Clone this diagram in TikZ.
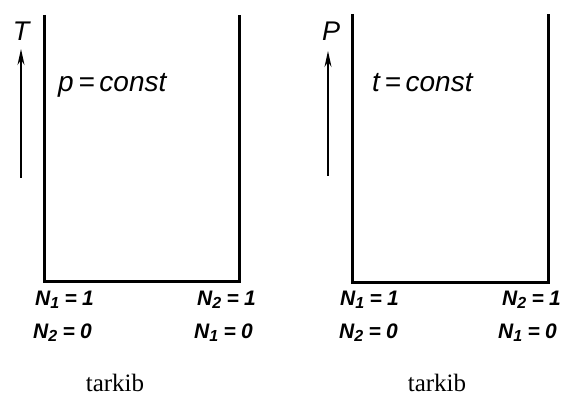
\documentclass[tikz,border=0pt]{standalone}
\usepackage{fontspec}
\setmainfont{Liberation Serif}
\setsansfont{Liberation Sans}
\usetikzlibrary{arrows.meta, positioning}

\newcommand{\eqsp}{\hspace{0.25em}=\hspace{0.25em}}
\newcommand{\nsub}[1]{\raisebox{-0.3ex}{\fontsize{16}{16}\selectfont #1}}

\begin{document}
\begin{tikzpicture}[
  x=1pt, y=-1pt,
  wall/.style={line width=3pt, line join=miter},
  axis/.style={-{Stealth[length=16pt, width=7pt]}, line width=1.4pt},
  lab/.style={font=\fontsize{21}{21}\selectfont\sffamily\itshape\bfseries, inner sep=0pt},
  cond/.style={font=\fontsize{28}{28}\selectfont\sffamily\itshape, inner sep=0pt},
  axlab/.style={font=\fontsize{27}{27}\selectfont\sffamily\itshape, inner sep=0pt},
  comp/.style={font=\fontsize{25}{25}\selectfont, inner sep=0pt}
]
\useasboundingbox (0,0) rectangle (570,398);

% Left diagram: p = const
\coordinate (ltl) at (44,15);
\coordinate (lbl) at (44,281);
\coordinate (lbr) at (239,281);
\coordinate (ltr) at (239,15);
\draw[wall] (ltl) -- (lbl) -- (lbr) -- (ltr);

\coordinate (lax0) at (21,178);
\coordinate (lax1) at (21,49);
\draw[axis] (lax0) -- (lax1);
\node[axlab] (tlab) at (21,31) {T};
\node[cond, anchor=base west] (pconst) at (58,92) {p\,=\,const};

\node[lab, anchor=west] (ln11) at (35,300) {N\nsub{1}\eqsp 1};
\node[lab, anchor=west] (ln20) at (33,333) {N\nsub{2}\eqsp 0};
\node[lab, anchor=west] (ln21) at (197,300) {N\nsub{2}\eqsp 1};
\node[lab, anchor=west] (ln10) at (194,333) {N\nsub{1}\eqsp 0};
\node[comp, anchor=base] (lcomp) at (115,391) {tarkib};

% Right diagram: t = const
\coordinate (rtl) at (352,14);
\coordinate (rbl) at (352,282);
\coordinate (rbr) at (548,282);
\coordinate (rtr) at (548,14);
\draw[wall] (rtl) -- (rbl) -- (rbr) -- (rtr);

\coordinate (rax0) at (328,176);
\coordinate (rax1) at (328,51);
\draw[axis] (rax0) -- (rax1);
\node[axlab] (plab) at (331,31) {P};
\node[cond, anchor=base west] (tconst) at (372,92) {t\,=\,const};

\node[lab, anchor=west] (rn11) at (340,300) {N\nsub{1}\eqsp 1};
\node[lab, anchor=west] (rn20) at (339,333) {N\nsub{2}\eqsp 0};
\node[lab, anchor=west] (rn21) at (502,300) {N\nsub{2}\eqsp 1};
\node[lab, anchor=west] (rn10) at (498,333) {N\nsub{1}\eqsp 0};
\node[comp, anchor=base] (rcomp) at (437,391) {tarkib};
\end{tikzpicture}
\end{document}
